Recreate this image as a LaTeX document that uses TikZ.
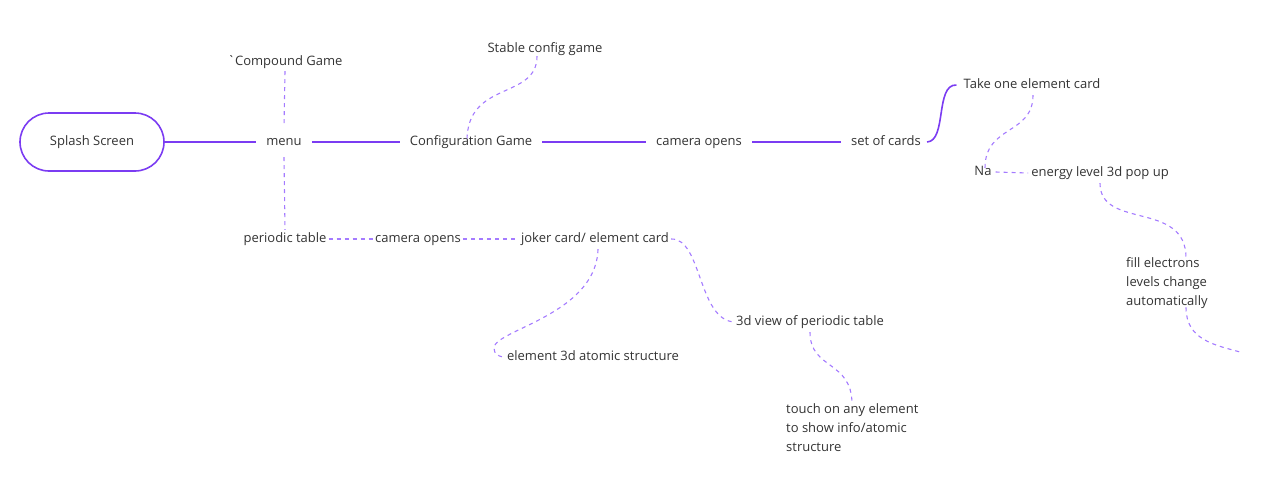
\documentclass[tikz,border=0pt]{standalone}
\usepackage{fontspec}
\setmainfont{Open Sans}
\newfontfamily\rawfont{Open Sans}[Ligatures=ResetAll]
\definecolor{flowline}{HTML}{7B3CF2}
\definecolor{flowdash}{HTML}{A47BFF}
\definecolor{flowtext}{HTML}{333333}
\tikzset{
	lbl/.style={text=flowtext,inner sep=1pt,text height=9pt,text depth=3pt,font=\fontsize{13}{19}\selectfont},
	solid link/.style={draw=flowline,line width=1.6pt},
	dash link/.style={draw=flowdash,line width=1.1pt,dash pattern=on 4pt off 4pt}
}
\begin{document}
\begin{tikzpicture}[x=1pt,y=-1pt]
				\useasboundingbox (0,0) rectangle (1274,498);
				\node[lbl,draw=flowline,line width=1.6pt,rounded corners=29pt,minimum width=144pt,minimum height=58pt] (splash) at (92,142) {Splash Screen};
				\node[lbl] (menu) at (284,142) {menu};
				\node[lbl] (compound) at (285,62) {{\rawfont`}Compound Game};
				\node[lbl] (ptable) at (285,239) {periodic table};
				\node[lbl] (config) at (471,142) {Configuration Game};
				\node[lbl] (stable) at (545,49) {Stable config game};
				\node[lbl] (camtop) at (699,142) {camera opens};
				\node[lbl] (cards) at (886,142) {set of cards};
				\node[lbl] (takeone) at (1032,85) {Take one element card};
				\node[lbl] (na) at (983,172) {Na};
				\node[lbl] (energy) at (1100,173) {energy level 3d pop up};
				\node[lbl,align=left,anchor=north west,text height=,text depth=] (fill) at (1125,256) {fill electrons\\levels change\\automatically};
				\coordinate (fillend) at (1240,352);
				\node[lbl] (cambot) at (418,239) {camera opens};
				\node[lbl] (joker) at (595,239) {joker card/ element card};
				\node[lbl] (atomic) at (593,357) {element 3d atomic structure};
				\node[lbl] (view) at (810,322) {3d view of periodic table};
				\node[lbl,align=left,anchor=north west,text height=,text depth=] (touch) at (785,402) {touch on any element\\to show info/atomic\\structure};

				\draw[solid link] (splash.east) -- ([xshift=-9pt]menu.west);
				\foreach \a/\b in {menu/config,config/camtop,camtop/cards}
				\draw[solid link,shorten <=9pt,shorten >=9pt] (\a.east) -- (\b.west);
				\draw[solid link] ([xshift=5pt]cards.east) .. controls (947,141) and (935,84) .. ([xshift=-6pt]takeone.west);

				\draw[dash link] ([yshift=-2pt]compound.south) -- ([yshift=8pt]menu.north);
				\draw[dash link] ([yshift=-8pt]menu.south) -- ([yshift=2pt]ptable.north);
				\draw[dash link] ([xshift=-8pt]stable.south) .. controls (537,100) and (467,80) .. ([xshift=-4pt,yshift=-6pt]config.north);
				\draw[dash link,shorten <=1pt,shorten >=1pt] (ptable.east) -- (cambot.west);
				\draw[dash link,shorten <=1pt,shorten >=1pt] (cambot.east) -- (joker.west);
				\draw[dash link] ([xshift=1pt]joker.east) .. controls (702,238) and (698,321) .. (view.west);
				\draw[dash link] ([xshift=3pt,yshift=-3pt]joker.south) .. controls (596,315) and (494,330) .. (494,348) .. controls (494,354) and (498,356) .. ([xshift=-3pt]atomic.west);
				\draw[dash link] ([yshift=-3pt]view.south) .. controls (810,370) and (852,360) .. ([xshift=67pt,yshift=-2pt]touch.north west);
				\draw[dash link] ([xshift=1pt,yshift=-3pt]takeone.south) .. controls (1033,135) and (985,125) .. ([xshift=2pt,yshift=-3pt]na.north);
				\draw[dash link] ([xshift=3pt]na.east) -- ([xshift=-2pt]energy.west);
				\draw[dash link] ([yshift=-3pt]energy.south) .. controls (1100,230) and (1186,200) .. ([xshift=61pt,yshift=-2pt]fill.north west);
				\draw[dash link] ([xshift=61pt,yshift=2pt]fill.south west) .. controls (1186,340) and (1215,345) .. (fillend);
			\end{tikzpicture}
\end{document}
